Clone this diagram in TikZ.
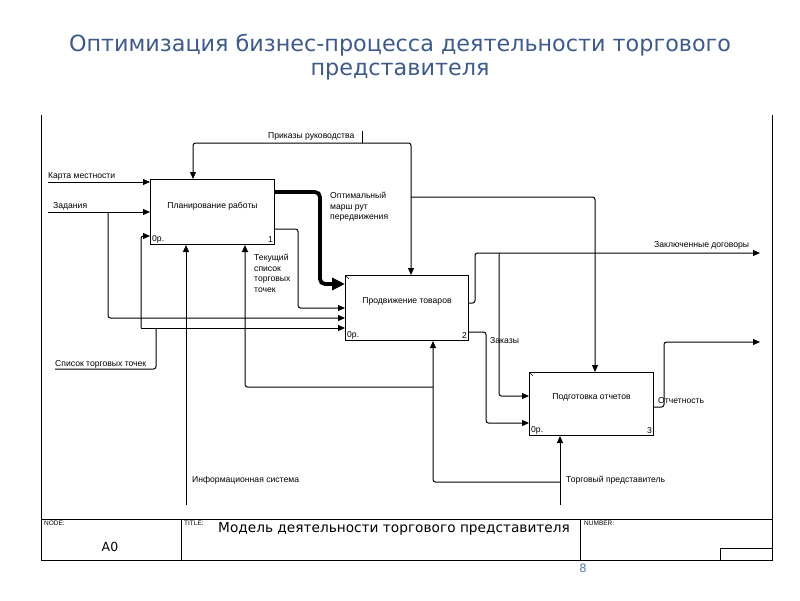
\documentclass[tikz,border=0pt]{standalone}
\usepackage{fontspec}
\setmainfont{Liberation Sans}
\newfontfamily\headfont{DejaVu Sans}
\usetikzlibrary{arrows.meta, positioning}
\definecolor{slideblue}{HTML}{3D5A8A}
\definecolor{pageblue}{HTML}{5B7BAE}
\tikzset{
    >={Triangle[length=7pt,width=6pt]}, % small filled heads as in IDEF0
    activity/.style={rectangle, draw=black, line width=1pt, anchor=north west,
        minimum width=124pt, minimum height=65pt, inner sep=0pt},
    lbl/.style={font=\fontsize{8.6}{10}\selectfont, inner sep=0pt},
    corner/.style={lbl, inner sep=2pt},
    line/.style={line width=1pt, rounded corners=2.5pt},
    flow/.style={line, ->},
    mainflow/.style={line width=3.8pt, rounded corners=5pt, -{Triangle[length=13pt,width=12pt]}},
    frame/.style={line width=1pt},
    heading/.style={font=\headfont\fontsize{22.3}{26}\selectfont, text=slideblue, inner sep=0pt},
}

\begin{document}
\begin{tikzpicture}[x=1pt, y=-1pt]
        \useasboundingbox (0,0) rectangle (800,600);
        % Heading
        \node[heading] (head1) at (400,45) {Оптимизация бизнес-процесса деятельности торгового};
        \node[heading] (head2) at (400,72) {представителя};

        % Frame and footer
        \draw[frame] (41,115) -- (41,560) -- (772,560) -- (772,115);
        \draw[frame] (41,519) -- (772,519);
        \draw[frame] (181,519) -- (181,560);
        \draw[frame] (580,519) -- (580,560);
        \draw[frame] (720,560) -- (720,548) -- (772,548);
        \node[lbl, anchor=north west, font=\fontsize{6.5}{7}\selectfont] (nodeLbl) at (44,521) {NODE:};
        \node[lbl, font=\headfont\fontsize{12.5}{14}\selectfont] (nodeNo) at (110,547) {A0};
        \node[lbl, anchor=north west, font=\fontsize{6.5}{7}\selectfont] (titleLbl) at (184,521) {TITLE:};
        \node[lbl, anchor=west, font=\headfont\fontsize{13.7}{15}\selectfont] (titleTxt) at (218,529) {Модель деятельности торгового представителя};
        \node[lbl, anchor=north west, font=\fontsize{6.5}{7}\selectfont] (numberLbl) at (584,521) {NUMBER:};
        \node[lbl, font=\headfont\fontsize{11.5}{13}\selectfont, text=pageblue] (pageNo) at (583,568) {8};

        % Nodes
        \node[activity] (plan) at (150,179) {};
        \node[activity, minimum width=123pt] (promo) at (345,275) {};
        \node[activity, minimum height=63pt] (report) at (529,372) {};
        \node[lbl] (planTxt) at ([yshift=6pt]plan.center) {Планирование работы};
        \node[lbl] (promoTxt) at ([yshift=7pt]promo.center) {Продвижение товаров};
        \node[lbl] (reportTxt) at ([yshift=7pt]report.center) {Подготовка отчетов};
        \node[corner, anchor=south west] (planOp) at (plan.south west) {0р.};
        \node[corner, anchor=south east] (planNo) at (plan.south east) {1};
        \node[corner, anchor=south west] (promoOp) at (promo.south west) {0р.};
        \node[corner, anchor=south east] (promoNo) at (promo.south east) {2};
        \node[corner, anchor=south west] (reportOp) at (report.south west) {0р.};
        \node[corner, anchor=south east] (reportNo) at (report.south east) {3};
        \draw[line width=0.6pt] (promo.north west) -- ++(4,4);
        \draw[line width=0.6pt] (report.north west) -- ++(4,4);

        % Labels
        \node[lbl, anchor=west] (kartaLbl) at (48,176) {Карта местности};
        \node[lbl, anchor=west] (zadLbl) at (53,206) {Задания};
        \node[lbl, anchor=west] (spisokLbl) at (55,364) {Список торговых точек};
        \node[lbl, anchor=west] (prikazLbl) at (268,136) {Приказы руководства};
        \node[lbl, anchor=north west, align=left, font=\fontsize{8.6}{10.5}\selectfont] (routeLbl) at (330,192) {Оптимальный\\марш рут\\передвижения};
        \node[lbl, anchor=north west, align=left, font=\fontsize{8.6}{10.7}\selectfont] (listLbl) at (254,254) {Текущий\\список\\торговых\\точек};
        \node[lbl, anchor=west] (dogovorLbl) at (654,245) {Заключенные договоры};
        \node[lbl, anchor=west] (zakazLbl) at (490,341) {Заказы};
        \node[lbl, anchor=west] (otchetLbl) at (658,401) {Отчетность};
        \node[lbl, anchor=west] (infoLbl) at (192,480) {Информационная система};
        \node[lbl, anchor=west] (agentLbl) at (566,480) {Торговый представитель};

        % Free ends and joins
        \coordinate (kartaIn) at (48,182);
        \coordinate (zadIn) at (48,212);
        \coordinate (zadSplit) at (108,212);
        \coordinate (spisokEnd) at (55,369);
        \coordinate (spisokSplit) at (141,328);
        \coordinate (prikazSrc) at (362,131);
        \coordinate (prikazJoin) at (362,143);
        \coordinate (prikazSplit) at (411,197);
        \coordinate (dogovorEnd) at (760,253);
        \coordinate (dogovorSplit) at (499,253);
        \coordinate (otchetEnd) at (760,342);
        \coordinate (infoSrc) at (186,505);
        \coordinate (agentSrc) at (560,505);
        \coordinate (agentSplit) at (560,482);
        \coordinate (agentSplitB) at (433,387);

        % Draw lines
        \draw[flow] (kartaIn) -- (plan.west |- kartaIn);
        \draw[flow] (zadIn) -- (plan.west |- zadIn);
        \draw[flow] (zadSplit) -- (108,318) -- (promo.west |- 0,318);
        \draw[line] (spisokEnd) -- (156,369) -- (156,328);
        \draw[flow] (spisokSplit) -- (promo.west |- spisokSplit);
        \draw[flow] (spisokSplit) -- (141,236) -- (plan.west |- 0,236);

        \draw[mainflow] (plan.east |- 0,192) -- (320,192) -- (320,284) -- (promo.west |- 0,284);
        \draw[flow] (plan.east |- 0,229) -- (298,229) -- (298,308) -- (promo.west |- 0,308);

        \draw[line] (prikazSrc) -- (prikazJoin);
        \draw[flow] (prikazJoin) -| (plan.north -| 193,0);
        \draw[flow] (prikazJoin) -| (promo.north -| 411,0);
        \draw[flow] (prikazSplit) -| (report.north -| 595,0);

        \draw[flow] (promo.east |- 0,303) -- (475,303) -- (475,253) -- (dogovorEnd);
        \draw[flow] (dogovorSplit) -- (499,396) -- (report.west |- 0,396);
        \draw[flow] (promo.east |- 0,332) -- (486,332) -- (486,423) -- (report.west |- 0,423);
        \draw[flow] (report.east |- 0,407) -- (664,407) -- (664,342) -- (otchetEnd);

        \draw[flow] (infoSrc) -- (plan.south -| infoSrc);
        \draw[flow] (agentSrc) -- (report.south -| agentSrc);
        \draw[flow] (agentSplit) -| (promo.south -| 433,0);
        \draw[flow] (agentSplitB) -| (plan.south -| 245,0);
    \end{tikzpicture}
\end{document}
